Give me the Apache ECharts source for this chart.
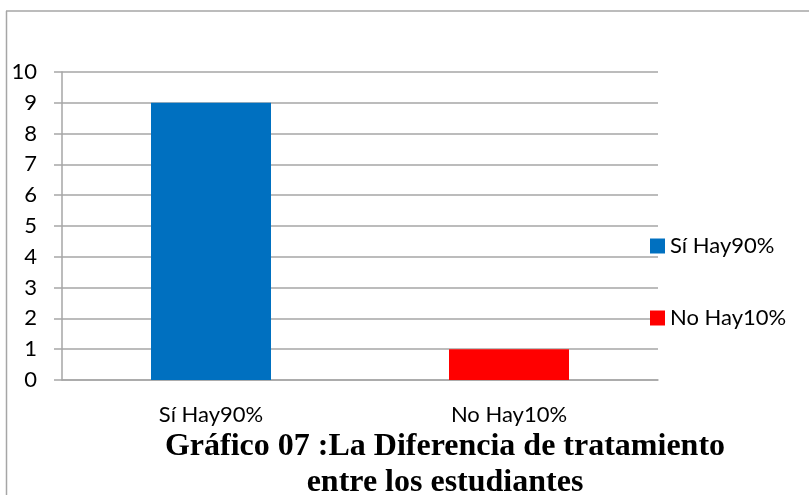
<!DOCTYPE html>
<html>
<head>
<meta charset="utf-8">
<script src="https://cdn.jsdelivr.net/npm/echarts@6/dist/echarts.min.js"></script>
<style>
  html, body { margin: 0; padding: 0; background: #fff; }
  #chart { width: 809px; height: 495px; }
</style>
</head>
<body>
<div id="chart"></div>
<script>
// datos del gráfico
const categorias = ["Sí Hay90%", "No Hay10%"];
const siHay = [9, "-"];
const noHay = ["-", 1];
const colores = ["#0070C0", "#FF0000"];

const chart = echarts.init(document.getElementById("chart"));
const gris = "#A6A6A6";
const fuente = "Lato, 'Liberation Sans', sans-serif";

chart.setOption({
  animation: false,
  // marco exterior (solo se ven borde superior e izquierdo)
  graphic: [
    { type: "line", shape: { x1: 6, y1: 11, x2: 809, y2: 11 }, style: { stroke: gris, lineWidth: 1.5 } },
    { type: "line", shape: { x1: 6.5, y1: 11, x2: 6.5, y2: 495 }, style: { stroke: gris, lineWidth: 1.5 } },
  ],
  title: {
    text: "Gráfico 07 :La Diferencia de tratamiento\nentre los estudiantes",
    left: 440,
    top: 424,
    textAlign: "center",
    textStyle: {
      fontFamily: "'Liberation Serif', 'Times New Roman', serif",
      fontWeight: "bold",
      fontSize: 32,
      lineHeight: 36,
      color: "#000",
    },
  },
  legend: {
    orient: "vertical",
    left: 645,
    top: 230,
    itemWidth: 15,
    itemHeight: 15,
    itemGap: 50,
    icon: "rect",
    textStyle: { fontFamily: fuente, fontSize: 22, color: "#000" },
    data: categorias,
  },
  grid: { left: 62, right: 151, top: 72, bottom: 115 },
  xAxis: {
    type: "category",
    data: categorias,
    axisLine: { show: true, lineStyle: { color: gris, width: 1.5 } },
    axisTick: { show: false },
    axisLabel: { fontFamily: fuente, fontSize: 22, color: "#000", margin: 24 },
  },
  yAxis: {
    type: "value",
    min: 0,
    max: 10,
    interval: 1,
    axisLine: { show: true, lineStyle: { color: gris, width: 1.5 } },
    axisTick: { show: true, length: 8, lineStyle: { color: gris, width: 1.5 } },
    splitLine: { show: true, lineStyle: { color: gris, width: 1.5 } },
    axisLabel: { fontFamily: fuente, fontSize: 22, color: "#000", margin: 25 },
  },
  series: [
    {
      name: categorias[0],
      type: "bar",
      stack: "total",
      barWidth: 120,
      itemStyle: { color: colores[0] },
      data: siHay,
    },
    {
      name: categorias[1],
      type: "bar",
      stack: "total",
      barWidth: 120,
      itemStyle: { color: colores[1] },
      data: noHay,
    },
  ],
});
</script>
</body>
</html>
